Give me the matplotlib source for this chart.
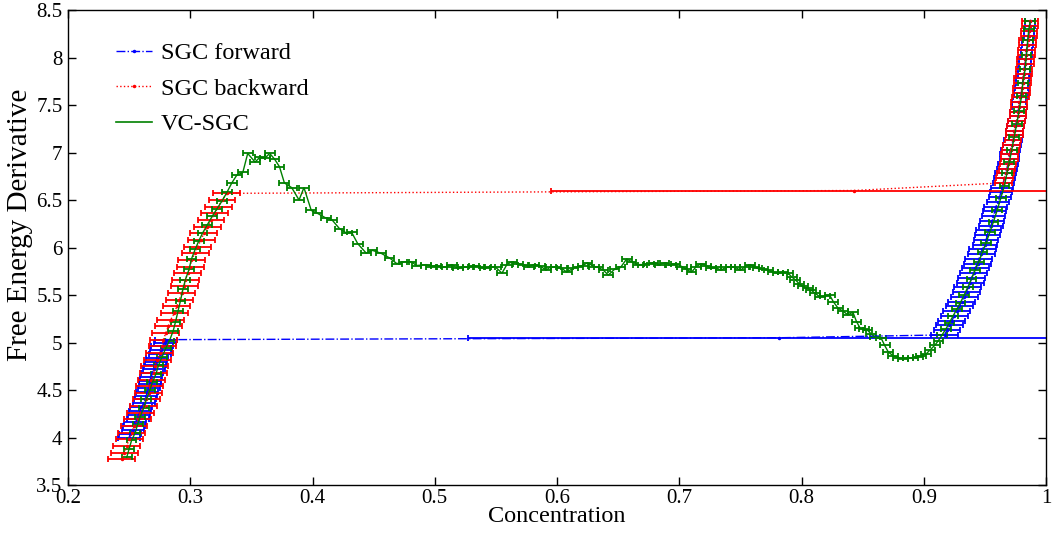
import numpy as np
import matplotlib
matplotlib.use("Agg")
import matplotlib.pyplot as plt
from matplotlib.lines import Line2D

plt.rcParams['font.family'] = ['Liberation Serif', 'DejaVu Serif']

# ---- SGC forward (blue) ----
FWD_LEFT_C = [0.250, 0.251, 0.253, 0.254, 0.255, 0.257, 0.258, 0.259, 0.260, 0.262,
              0.263, 0.264, 0.265, 0.266, 0.267, 0.267, 0.268, 0.269, 0.270, 0.271,
              0.272, 0.273, 0.275, 0.276, 0.277, 0.279, 0.280]
FWD_LEFT_V = [4.00, 4.04, 4.08, 4.12, 4.16, 4.20, 4.24, 4.28, 4.32, 4.36,
              4.40, 4.44, 4.48, 4.52, 4.56, 4.60, 4.64, 4.68, 4.72, 4.76,
              4.80, 4.84, 4.88, 4.92, 4.96, 5.00, 5.03]
FWD_LEFT_ERR = 0.009
FWD_MID_C, FWD_MID_V, FWD_MID_ERR = 0.782, 5.05, 0.255
FWD_RIGHT_C = [0.917, 0.919, 0.921, 0.923, 0.925, 0.927, 0.929, 0.931, 0.933, 0.935,
               0.936, 0.938, 0.939, 0.941, 0.942, 0.944, 0.945, 0.947, 0.948, 0.950,
               0.951, 0.952, 0.953, 0.955, 0.956, 0.957, 0.958, 0.959, 0.961, 0.962,
               0.963, 0.964, 0.965, 0.966, 0.967, 0.968, 0.969, 0.970, 0.970, 0.971,
               0.972, 0.973, 0.974, 0.974, 0.975, 0.976, 0.977, 0.977, 0.978, 0.978,
               0.979, 0.980, 0.980, 0.981, 0.981, 0.982, 0.982, 0.983, 0.983, 0.984,
               0.984, 0.985, 0.985, 0.986, 0.986, 0.987, 0.987]
FWD_RIGHT_V = [5.08, 5.13, 5.18, 5.23, 5.28, 5.33, 5.38, 5.43, 5.48, 5.53,
               5.58, 5.63, 5.68, 5.73, 5.78, 5.83, 5.88, 5.93, 5.98, 6.03,
               6.08, 6.13, 6.18, 6.23, 6.28, 6.33, 6.38, 6.43, 6.48, 6.53,
               6.58, 6.63, 6.68, 6.73, 6.78, 6.83, 6.88, 6.93, 6.98, 7.03,
               7.08, 7.13, 7.18, 7.23, 7.28, 7.33, 7.38, 7.43, 7.48, 7.53,
               7.58, 7.63, 7.68, 7.73, 7.78, 7.83, 7.88, 7.93, 7.98, 8.03,
               8.08, 8.13, 8.18, 8.23, 8.28, 8.33, 8.38]
FWD_RIGHT_ERR = [0.011, 0.011, 0.011, 0.011, 0.011, 0.011, 0.011, 0.011, 0.011, 0.011,
                 0.011, 0.011, 0.011, 0.011, 0.011, 0.011, 0.011, 0.011, 0.011, 0.010,
                 0.010, 0.010, 0.010, 0.010, 0.010, 0.0095, 0.0095, 0.0095, 0.009, 0.009,
                 0.009, 0.009, 0.0085, 0.0085, 0.0085, 0.008, 0.008, 0.008, 0.008, 0.0075,
                 0.0075, 0.0075, 0.007, 0.007, 0.007, 0.0068, 0.0066, 0.0064, 0.0062, 0.006,
                 0.006, 0.0058, 0.0056, 0.0055, 0.0054, 0.0053, 0.0052, 0.005, 0.005, 0.0048,
                 0.0047, 0.0046, 0.0045, 0.0044, 0.0043, 0.0042, 0.0041]

# ---- SGC backward (red) ----
BWD_RIGHT_C = [0.987, 0.987, 0.986, 0.986, 0.985, 0.985, 0.984, 0.984, 0.983, 0.983,
               0.982, 0.982, 0.981, 0.981, 0.980, 0.980, 0.979, 0.978, 0.978, 0.977,
               0.977, 0.976, 0.975, 0.974, 0.974, 0.973, 0.972, 0.971, 0.970, 0.970,
               0.969, 0.968, 0.967, 0.966, 0.965]
BWD_RIGHT_V = [8.38, 8.33, 8.28, 8.23, 8.18, 8.13, 8.08, 8.03, 7.98, 7.93,
               7.88, 7.83, 7.78, 7.73, 7.68, 7.63, 7.58, 7.53, 7.48, 7.43,
               7.38, 7.33, 7.28, 7.23, 7.18, 7.13, 7.08, 7.03, 6.98, 6.93,
               6.88, 6.83, 6.78, 6.73, 6.68]
BWD_RIGHT_ERR = 0.0068
BWD_MID_C, BWD_MID_V, BWD_MID_ERR = 0.843, 6.60, 0.248
BWD_LEFT_C = [0.330, 0.326, 0.323, 0.320, 0.317, 0.314, 0.311, 0.309, 0.306, 0.304,
              0.301, 0.300, 0.298, 0.296, 0.295, 0.293, 0.291, 0.289, 0.287, 0.284,
              0.282, 0.280, 0.278, 0.277, 0.275, 0.273, 0.271, 0.270, 0.268, 0.267,
              0.266, 0.264, 0.262, 0.259, 0.257, 0.254, 0.252, 0.250, 0.248, 0.246,
              0.244]
BWD_LEFT_V = [6.57, 6.50, 6.43, 6.36, 6.29, 6.22, 6.15, 6.08, 6.01, 5.94,
              5.87, 5.80, 5.73, 5.66, 5.59, 5.52, 5.45, 5.38, 5.31, 5.24,
              5.17, 5.10, 5.03, 4.96, 4.89, 4.82, 4.75, 4.68, 4.61, 4.54,
              4.47, 4.40, 4.33, 4.26, 4.19, 4.12, 4.05, 3.98, 3.91, 3.84,
              3.77]
BWD_LEFT_ERR = 0.011

# ---- VC-SGC (green) ----
VC_C = [0.248, 0.250, 0.252, 0.255, 0.257, 0.259, 0.262, 0.264, 0.267, 0.269,
        0.272, 0.274, 0.277, 0.280, 0.283, 0.286, 0.288, 0.290, 0.292, 0.294,
        0.296, 0.299, 0.301, 0.304, 0.307, 0.310, 0.314, 0.318, 0.322, 0.326,
        0.330, 0.334, 0.338, 0.343, 0.347, 0.353, 0.357, 0.361, 0.365, 0.369,
        0.373, 0.377, 0.383, 0.389, 0.393, 0.399, 0.404, 0.411, 0.416, 0.422,
        0.428, 0.432, 0.437, 0.444, 0.449, 0.456, 0.463, 0.469, 0.475, 0.481,
        0.485, 0.493, 0.497, 0.501, 0.506, 0.510, 0.514, 0.519, 0.523, 0.527,
        0.532, 0.536, 0.541, 0.545, 0.550, 0.555, 0.559, 0.563, 0.568, 0.572,
        0.577, 0.581, 0.586, 0.591, 0.595, 0.599, 0.604, 0.608, 0.613, 0.617,
        0.621, 0.625, 0.630, 0.634, 0.638, 0.642, 0.647, 0.652, 0.657, 0.661,
        0.666, 0.670, 0.675, 0.679, 0.684, 0.688, 0.693, 0.697, 0.702, 0.706,
        0.710, 0.714, 0.718, 0.722, 0.726, 0.730, 0.734, 0.738, 0.742, 0.746,
        0.750, 0.754, 0.758, 0.761, 0.764, 0.769, 0.773, 0.777, 0.781, 0.785,
        0.789, 0.792, 0.795, 0.798, 0.801, 0.805, 0.808, 0.811, 0.815, 0.819,
        0.823, 0.826, 0.830, 0.834, 0.838, 0.842, 0.845, 0.848, 0.851, 0.854,
        0.857, 0.860, 0.865, 0.868, 0.871, 0.875, 0.879, 0.883, 0.887, 0.891,
        0.895, 0.898, 0.902, 0.905, 0.909, 0.912, 0.915, 0.918, 0.921, 0.924,
        0.927, 0.930, 0.933, 0.936, 0.939, 0.942, 0.945, 0.948, 0.951, 0.954,
        0.957, 0.960, 0.963, 0.966, 0.968, 0.970, 0.972, 0.974, 0.976, 0.978,
        0.980, 0.981, 0.983, 0.984, 0.985, 0.986, 0.987]
VC_V = [3.79, 3.88, 3.97, 4.05, 4.14, 4.22, 4.31, 4.40, 4.50, 4.58,
        4.67, 4.76, 4.85, 4.94, 5.02, 5.12, 5.22, 5.33, 5.44, 5.56,
        5.66, 5.77, 5.88, 5.98, 6.07, 6.15, 6.24, 6.33, 6.41, 6.49,
        6.58, 6.68, 6.76, 6.79, 6.99, 6.90, 6.95, 6.94, 6.99, 6.93,
        6.85, 6.68, 6.63, 6.50, 6.63, 6.39, 6.36, 6.31, 6.29, 6.20,
        6.15, 6.16, 6.04, 5.94, 5.97, 5.94, 5.89, 5.83, 5.85, 5.85,
        5.81, 5.82, 5.80, 5.81, 5.79, 5.80, 5.82, 5.78, 5.80, 5.79,
        5.81, 5.80, 5.78, 5.80, 5.79, 5.73, 5.82, 5.85, 5.83, 5.82,
        5.80, 5.82, 5.81, 5.76, 5.80, 5.79, 5.78, 5.74, 5.78, 5.80,
        5.81, 5.84, 5.80, 5.79, 5.76, 5.71, 5.77, 5.79, 5.88, 5.85,
        5.82, 5.82, 5.83, 5.84, 5.82, 5.84, 5.82, 5.83, 5.80, 5.77,
        5.74, 5.80, 5.83, 5.81, 5.78, 5.79, 5.76, 5.79, 5.80, 5.79,
        5.76, 5.80, 5.82, 5.80, 5.78, 5.77, 5.76, 5.74, 5.73, 5.74,
        5.73, 5.69, 5.66, 5.62, 5.59, 5.57, 5.55, 5.52, 5.48, 5.49,
        5.50, 5.43, 5.36, 5.33, 5.29, 5.32, 5.22, 5.15, 5.14, 5.13,
        5.09, 5.06, 5.05, 4.97, 4.90, 4.86, 4.84, 4.83, 4.84, 4.84,
        4.85, 4.86, 4.88, 4.92, 4.97, 5.02, 5.08, 5.14, 5.21, 5.28,
        5.35, 5.42, 5.50, 5.58, 5.67, 5.76, 5.85, 5.95, 6.05, 6.16,
        6.27, 6.39, 6.52, 6.65, 6.78, 6.90, 7.03, 7.16, 7.30, 7.44,
        7.59, 7.73, 7.88, 8.03, 8.18, 8.30, 8.38]
VC_ERR = 0.004

XTICKS = [0.2, 0.3, 0.4, 0.5, 0.6, 0.7, 0.8, 0.9, 1.0]
XTICK_LABELS = ["0.2", "0.3", "0.4", "0.5", "0.6", "0.7", "0.8", "0.9", "1"]
YTICKS = [3.5, 4, 4.5, 5, 5.5, 6, 6.5, 7, 7.5, 8, 8.5]
YTICK_LABELS = ["3.5", "4", "4.5", "5", "5.5", "6", "6.5", "7", "7.5", "8", "8.5"]

fwd_c = np.concatenate([FWD_LEFT_C, [FWD_MID_C], FWD_RIGHT_C])
fwd_v = np.concatenate([FWD_LEFT_V, [FWD_MID_V], FWD_RIGHT_V])
fwd_e = np.concatenate([np.full(len(FWD_LEFT_C), FWD_LEFT_ERR), [FWD_MID_ERR], FWD_RIGHT_ERR])

bwd_c = np.concatenate([BWD_RIGHT_C, [BWD_MID_C], BWD_LEFT_C])
bwd_v = np.concatenate([BWD_RIGHT_V, [BWD_MID_V], BWD_LEFT_V])
bwd_e = np.concatenate([np.full(len(BWD_RIGHT_C), BWD_RIGHT_ERR), [BWD_MID_ERR],
                        np.full(len(BWD_LEFT_C), BWD_LEFT_ERR)])

fig = plt.figure(figsize=(10.52, 5.37), dpi=100)
ax = fig.add_axes([68 / 1052, 52 / 537, 978 / 1052, 475 / 537])

BLUE, RED, GREEN = "#0000ff", "#ff0000", "#008000"

ax.errorbar(fwd_c, fwd_v, xerr=fwd_e, fmt="-.", color=BLUE, marker=".", ms=3,
            lw=1.0, elinewidth=1.3, ecolor=BLUE, capsize=2.5, capthick=1.3)
ax.errorbar(bwd_c, bwd_v, xerr=bwd_e, fmt=":", color=RED, marker=".", ms=3,
            lw=1.0, elinewidth=1.3, ecolor=RED, capsize=2.5, capthick=1.3)
ax.errorbar(VC_C, VC_V, xerr=VC_ERR, fmt="-", color=GREEN, lw=1.0,
            elinewidth=1.3, ecolor=GREEN, capsize=2.5, capthick=1.3)

ax.set_xlim(0.2, 1.0)
ax.set_ylim(3.5, 8.5)
ax.set_xticks(XTICKS)
ax.set_xticklabels(XTICK_LABELS)
ax.set_yticks(YTICKS)
ax.set_yticklabels(YTICK_LABELS)
ax.tick_params(direction="in", top=True, right=True, length=6, width=1,
               labelsize=15)
ax.tick_params(axis="x", pad=3)
ax.tick_params(axis="y", pad=4)
for s in ax.spines.values():
    s.set_linewidth(1.0)

ax.set_xlabel("Concentration", fontsize=17.5)
ax.set_ylabel("Free Energy Derivative", fontsize=21)
ax.xaxis.set_label_coords(0.5, -0.045)
ax.yaxis.set_label_coords(-0.036, 0.547)

handles = [
    Line2D([], [], color=BLUE, ls="-.", marker=".", ms=3, lw=1.0),
    Line2D([], [], color=RED, ls=":", marker=".", ms=3, lw=1.0),
    Line2D([], [], color=GREEN, ls="-", lw=1.2),
]
ax.legend(handles, ["SGC forward", "SGC backward", "VC-SGC"], loc="upper left",
          bbox_to_anchor=(0.049, 0.932), frameon=False, fontsize=17.5,
          borderpad=0, borderaxespad=0, handlelength=1.5, handletextpad=0.35,
          labelspacing=0.55, markerscale=1)

fig.savefig("out.png", dpi=100)
